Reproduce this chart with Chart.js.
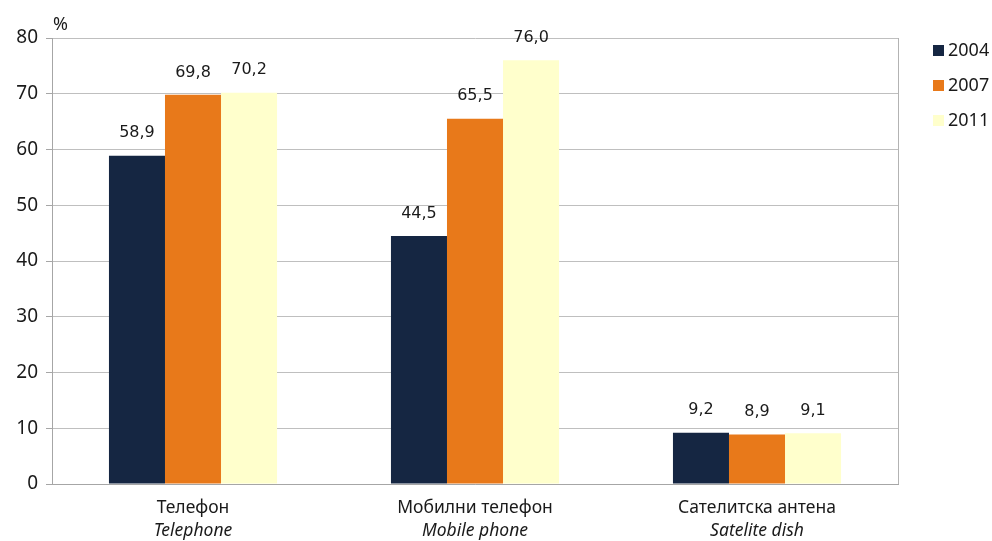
<!DOCTYPE html>
<html>
<head>
<meta charset="utf-8">
<script src="https://cdn.jsdelivr.net/npm/chart.js@4/dist/chart.umd.min.js"></script>
<style>
  html, body { margin: 0; padding: 0; background: #fff; }
  #wrap { width: 992px; height: 541px; position: relative; }
</style>
</head>
<body>
<div id="wrap"><canvas id="c" width="992" height="541"></canvas></div>
<script>
const categoriesBg = ['Телефон', 'Мобилни телефон', 'Сателитска антена'];
const categoriesEn = ['Telephone', 'Mobile phone', 'Satelite dish'];
const seriesNames = ['2004', '2007', '2011'];
const values2004 = [58.9, 44.5, 9.2];
const values2007 = [69.8, 65.5, 8.9];
const values2011 = [70.2, 76.0, 9.1];
const yTicks = [0, 10, 20, 30, 40, 50, 60, 70, 80];
const colors = ['#152642', '#E8791A', '#FFFFCC'];

const FONT = "'Noto Sans', sans-serif";
const LABEL_FONT = "'DejaVu Sans', sans-serif";

const extras = {
  id: 'extras',
  afterDatasetsDraw(chart) {
    const ctx = chart.ctx;
    const ca = chart.chartArea;
    ctx.save();
    // plot border right
    ctx.strokeStyle = '#b3b3b3';
    ctx.lineWidth = 1;
    ctx.beginPath();
    ctx.moveTo(Math.round(ca.right) + 0.5, ca.top);
    ctx.lineTo(Math.round(ca.right) + 0.5, ca.bottom);
    ctx.stroke();
    // data labels
    ctx.fillStyle = '#1a1a1a';
    ctx.font = '16px ' + LABEL_FONT;
    ctx.textAlign = 'center';
    ctx.textBaseline = 'middle';
    chart.data.datasets.forEach((ds, i) => {
      const meta = chart.getDatasetMeta(i);
      meta.data.forEach((bar, j) => {
        const v = ds.data[j];
        ctx.fillText(v.toFixed(1).replace('.', ','), bar.x, bar.y - 22.5);
      });
    });
    // % label
    ctx.font = '18px ' + FONT;
    ctx.textAlign = 'left';
    ctx.fillText('%', ca.left + 1, ca.top - 13);
    // English italic category labels
    const xs = chart.scales.x;
    ctx.font = 'italic 17.5px ' + FONT;
    ctx.textAlign = 'center';
    categoriesEn.forEach((t, j) => {
      ctx.fillText(t, xs.getPixelForValue(j), 531);
    });
    // legend
    ctx.font = '18px ' + FONT;
    ctx.textAlign = 'left';
    seriesNames.forEach((n, i) => {
      const y = 50 + i * 35;
      ctx.fillStyle = colors[i];
      ctx.fillRect(933, y - 5, 11, 11);
      ctx.fillStyle = '#1a1a1a';
      ctx.fillText(n, 948, y + 1);
    });
    ctx.restore();
  }
};

new Chart(document.getElementById('c'), {
  type: 'bar',
  data: {
    labels: categoriesBg,
    datasets: [
      { label: seriesNames[0], data: values2004, backgroundColor: colors[0] },
      { label: seriesNames[1], data: values2007, backgroundColor: colors[1] },
      { label: seriesNames[2], data: values2011, backgroundColor: colors[2] }
    ]
  },
  options: {
    responsive: false,
    animation: false,
    devicePixelRatio: 1,
    layout: { padding: { left: 0, right: 94, top: 38, bottom: 0 } },
    plugins: { legend: { display: false }, tooltip: { enabled: false } },
    datasets: { bar: { categoryPercentage: 0.596, barPercentage: 1.0, borderWidth: 0 } },
    scales: {
      x: {
        grid: { display: false, drawTicks: false },
        border: { display: true, color: '#a6a6a6', width: 1 },
        ticks: { color: '#1a1a1a', font: { family: FONT, size: 17.5 }, padding: 14, maxRotation: 0 },
        afterFit(s) { s.height = 57; }
      },
      y: {
        min: 0, max: 80,
        afterBuildTicks(s) { s.ticks = yTicks.map(v => ({ value: v })); },
        grid: { color: '#bfbfbf', lineWidth: 1, tickLength: 6, tickColor: '#a6a6a6' },
        border: { display: true, color: '#a6a6a6', width: 1 },
        ticks: { color: '#1a1a1a', font: { family: FONT, size: 19 }, padding: 8 },
        afterFit(s) { s.width = 52; }
      }
    }
  },
  plugins: [extras]
});
</script>
</body>
</html>
